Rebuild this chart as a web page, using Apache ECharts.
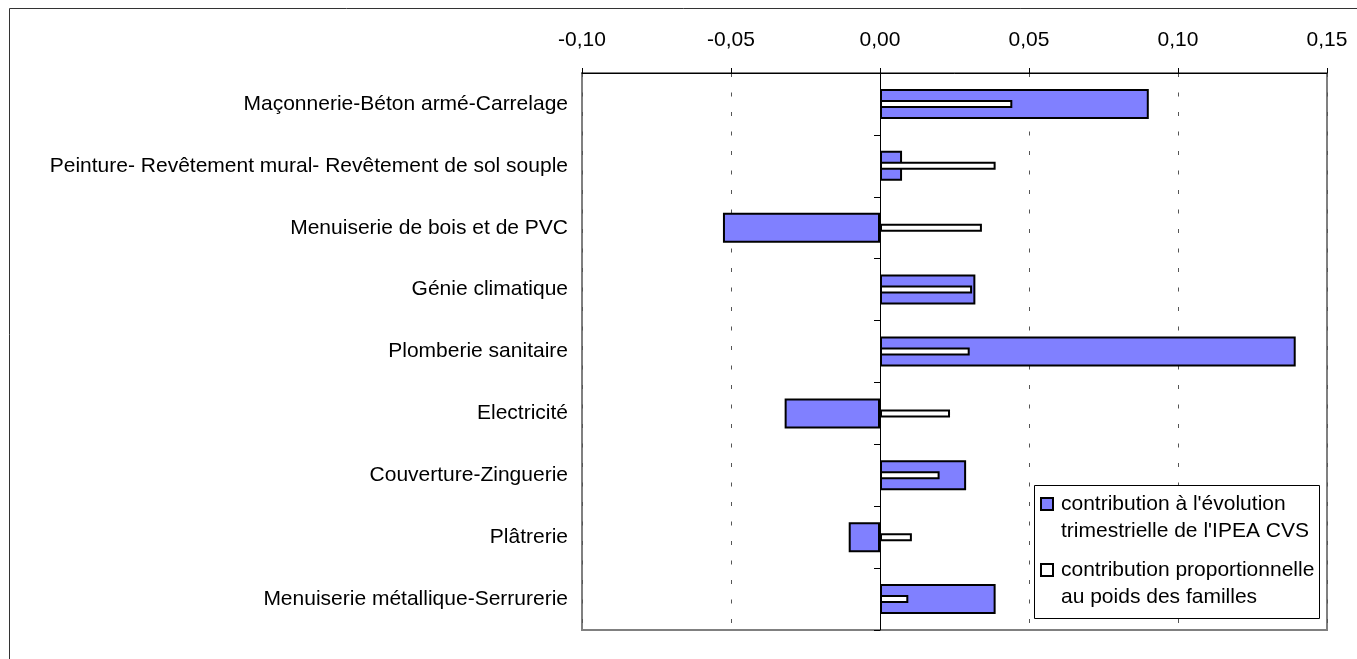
<!DOCTYPE html>
<html><head><meta charset="utf-8">
<script src="https://cdn.jsdelivr.net/npm/echarts@6/dist/echarts.min.js"></script>
<style>html,body{margin:0;padding:0;background:#fff}#c{width:1357px;height:659px}</style>
</head><body><div id="c"></div>
<script>
const categories = [
  "Maçonnerie-Béton armé-Carrelage",
  "Peinture- Revêtement mural- Revêtement de sol souple",
  "Menuiserie de bois et de PVC",
  "Génie climatique",
  "Plomberie sanitaire",
  "Electricité",
  "Couverture-Zinguerie",
  "Plâtrerie",
  "Menuiserie métallique-Serrurerie"
];
const contributionEvolution = [0.0902, 0.0074, -0.0527, 0.0320, 0.1395, -0.0320, 0.0289, -0.0105, 0.0388];
const contributionPoids = [0.0444, 0.0388, 0.0342, 0.0309, 0.0301, 0.0235, 0.0200, 0.0107, 0.0095];
const seriesNames = [
  "contribution à l'évolution\ntrimestrielle de l'IPEA CVS",
  "contribution proportionnelle\nau poids des familles"
];
const xTickValues = [-0.10, -0.05, 0.00, 0.05, 0.10, 0.15];
const xTickLabels = ["-0,10", "-0,05", "0,00", "0,05", "0,10", "0,15"];

const FONT = "'Liberation Sans', Arial, sans-serif";
const FS = 21;

const chart = echarts.init(document.getElementById('c'));
chart.setOption({
  animation: false,
  backgroundColor: '#fff',
  grid: {
    left: 582, right: 30, top: 73, bottom: 29,
    show: true, borderColor: '#808080', borderWidth: 2, backgroundColor: 'transparent'
  },
  xAxis: {
    type: 'value', position: 'top',
    min: xTickValues[0], max: xTickValues[xTickValues.length - 1], interval: 0.05,
    axisLine: { show: true, lineStyle: { color: '#000', width: 1 } },
    axisTick: { show: true, length: 5, lineStyle: { color: '#000' } },
    axisLabel: {
      margin: 22, fontSize: FS, fontFamily: FONT, color: '#000',
      formatter: function (v) {
        const i = xTickValues.findIndex(t => Math.abs(t - v) < 1e-9);
        return i >= 0 ? xTickLabels[i] : '';
      }
    },
    splitLine: { show: true, lineStyle: { color: '#555', width: 1, type: [4, 15.5] } }
  },
  yAxis: [
    {
      type: 'category', data: categories, inverse: true, position: 'left',
      axisLine: { show: false, onZero: false },
      axisTick: { show: false },
      axisLabel: { margin: 14, fontSize: FS, fontFamily: FONT, color: '#000' }
    },
    {
      type: 'category', data: categories, inverse: true, position: 'left',
      axisLine: { show: true, onZero: true, lineStyle: { color: '#000', width: 1 } },
      axisTick: { show: true, length: 6, lineStyle: { color: '#000', width: 1 } },
      axisLabel: { show: false },
      splitLine: { show: false }
    }
  ],
  legend: {
    orient: 'vertical', left: 1040, top: 463.5, padding: 0, itemGap: -15,
    itemWidth: 12, itemHeight: 12, icon: 'rect', z: 6,
    formatter: function (name) { return '\n' + name; },
    textStyle: { fontSize: FS, fontFamily: FONT, color: '#000', lineHeight: 27, padding: [0, 0, 0, 3] },
    data: seriesNames
  },
  graphic: [
    { type: 'rect', silent: true, z: 0, shape: { x: 9.5, y: 8.5, width: 1400, height: 700 },
      style: { fill: 'none', stroke: '#333', lineWidth: 1 } },
    { type: 'rect', silent: true, z: 5, shape: { x: 1034.5, y: 485.5, width: 285, height: 133 },
      style: { fill: '#fff', stroke: '#000', lineWidth: 1 } }
  ],
  series: [
    {
      name: seriesNames[0], type: 'bar', yAxisIndex: 0, data: contributionEvolution,
      barWidth: 30, z: 2,
      itemStyle: { color: '#8080ff', borderColor: '#000', borderWidth: 2 }
    },
    {
      name: seriesNames[1], type: 'bar', yAxisIndex: 1, data: contributionPoids,
      barWidth: 8, z: 3,
      itemStyle: { color: '#fff', borderColor: '#000', borderWidth: 2 }
    }
  ]
});
</script></body></html>
